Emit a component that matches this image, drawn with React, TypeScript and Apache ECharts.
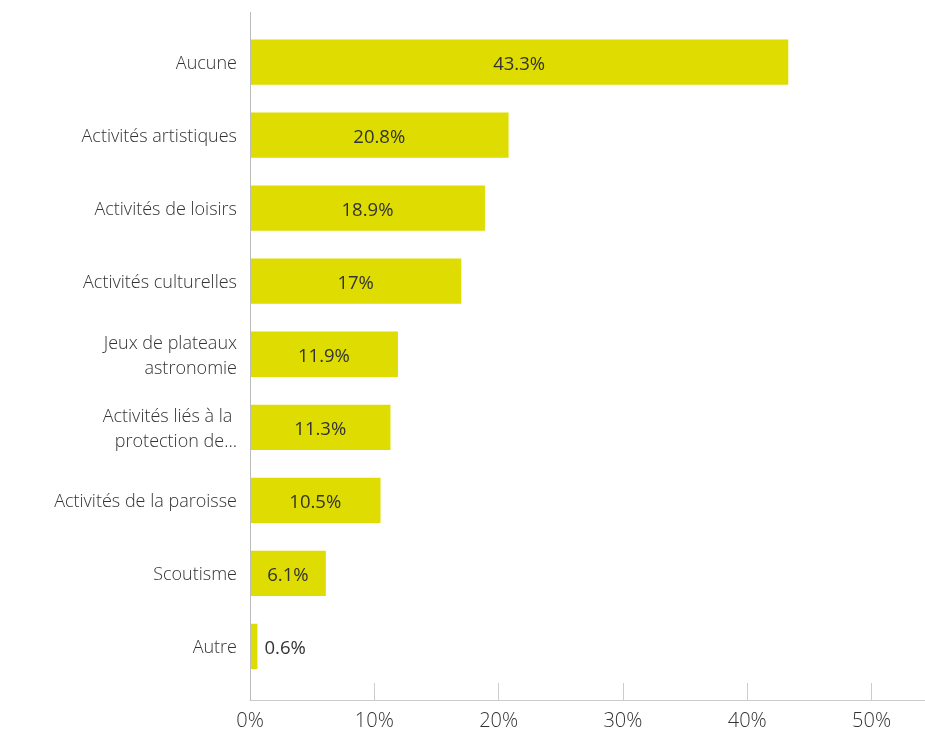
import React, { useEffect, useRef } from "react";
import * as echarts from "echarts";

const categories = [
  "Aucune",
  "Activités artistiques",
  "Activités de loisirs",
  "Activités culturelles",
  "Jeux de plateaux\nastronomie",
  "Activités liés à la \nprotection de...",
  "Activités de la paroisse",
  "Scoutisme",
  "Autre",
];
const values = [43.3, 20.8, 18.9, 17, 11.9, 11.3, 10.5, 6.1, 0.6];
const tickValues = [0, 10, 20, 30, 40, 50];

const FONT = "'Open Sans', sans-serif";

export default function App() {
  const ref = useRef<HTMLDivElement>(null);
  useEffect(() => {
    if (!ref.current) return;
    const chart = echarts.init(ref.current, null, { renderer: "svg" });
    chart.setOption({
      animation: false,
      grid: { left: 250, right: 0, top: 25.5, bottom: 51, containLabel: false },
      xAxis: {
        type: "value",
        min: 0,
        max: 54.3,
        offset: 17,
        splitLine: { show: false },
        axisLine: { show: true, lineStyle: { color: "#cccccc", width: 1 } },
        axisTick: {
          show: true,
          inside: true,
          length: 17,
          customValues: tickValues,
          lineStyle: { color: "#cccccc" },
        },
        axisLabel: {
          customValues: tickValues,
          formatter: (v: number) => `${v}%`,
          color: "#333333",
          fontFamily: FONT,
          fontWeight: 300,
          fontSize: 20,
          margin: 9,
        },
      },
      yAxis: {
        type: "category",
        inverse: true,
        data: categories,
        axisLine: { show: false },
        axisTick: { show: false },
        axisLabel: {
          color: "#333333",
          fontFamily: FONT,
          fontWeight: 300,
          fontSize: 18,
          margin: 13,
          align: "right",
          lineHeight: 25,
        },
      },
      graphic: [
        {
          type: "line",
          shape: { x1: 250.5, y1: 12, x2: 250.5, y2: 700 },
          style: { stroke: "#bbbbbb", lineWidth: 1 },
          z: 10,
        },
      ],
      series: [
        {
          type: "bar",
          barCategoryGap: "38%",
          itemStyle: { color: "#dedc00" },
          data: values.map((v) => ({
            value: v,
            label: { position: v < 3 ? "right" : "inside" },
          })),
          label: {
            show: true,
            formatter: (p: any) => `${p.value}%`,
            color: "#333333",
            fontFamily: FONT,
            fontSize: 18.5,
            distance: 7,
          },
        },
      ],
    });
    return () => chart.dispose();
  }, []);
  return (
    <div
      ref={ref}
      style={{ position: "fixed", left: 0, top: 0, width: 925, height: 734 }}
    />
  );
}
